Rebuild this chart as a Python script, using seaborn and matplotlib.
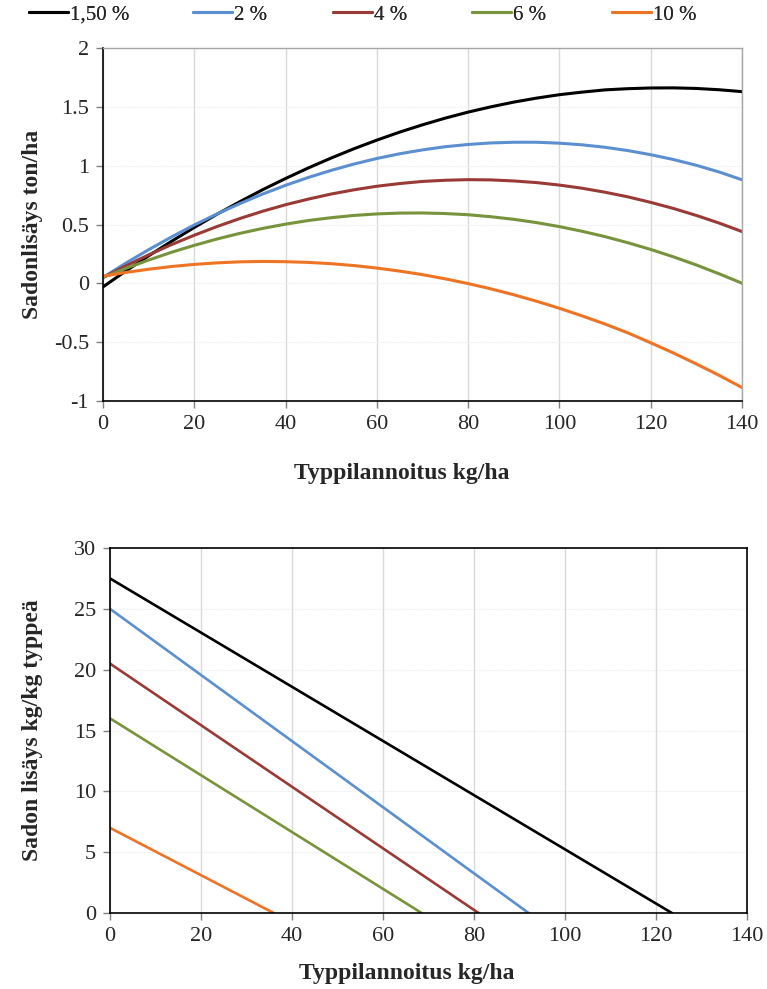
import numpy as np
import pandas as pd
import matplotlib
matplotlib.use("Agg")
import matplotlib.pyplot as plt
import seaborn as sns

# ---- data ----
series = ["1,50 %", "2 %", "4 %", "6 %", "10 %"]
colors = ["#000000", "#5B8FD0", "#9A3A37", "#77933C", "#EE7424"]

n_rate = [0, 5, 10, 15, 20, 25, 30, 35, 40, 45, 50, 55, 60, 65, 70,
          75, 80, 85, 90, 95, 100, 105, 110, 115, 120, 125, 130, 135, 140]
yield_150 = [-0.03, 0.105, 0.234, 0.357, 0.475, 0.588, 0.694, 0.796, 0.891, 0.981, 1.065, 1.144, 1.217, 1.285, 1.347,
             1.404, 1.455, 1.500, 1.540, 1.574, 1.603, 1.625, 1.644, 1.654, 1.660, 1.661, 1.656, 1.645, 1.629]
yield_2 = [0.05, 0.172, 0.286, 0.394, 0.496, 0.590, 0.678, 0.759, 0.833, 0.900, 0.960, 1.014, 1.061, 1.101, 1.134,
           1.161, 1.180, 1.193, 1.199, 1.199, 1.191, 1.177, 1.156, 1.128, 1.093, 1.052, 1.003, 0.946, 0.880]
yield_4 = [0.05, 0.149, 0.242, 0.329, 0.409, 0.483, 0.551, 0.613, 0.668, 0.716, 0.759, 0.795, 0.825, 0.848, 0.866,
           0.876, 0.881, 0.879, 0.870, 0.856, 0.835, 0.808, 0.774, 0.735, 0.688, 0.636, 0.577, 0.512, 0.440]
yield_6 = [0.05, 0.127, 0.198, 0.264, 0.323, 0.377, 0.425, 0.467, 0.503, 0.534, 0.558, 0.577, 0.590, 0.597, 0.598,
           0.593, 0.583, 0.566, 0.544, 0.516, 0.482, 0.442, 0.397, 0.345, 0.288, 0.225, 0.156, 0.081, 0.001]
yield_10 = [0.06, 0.093, 0.120, 0.143, 0.161, 0.174, 0.183, 0.186, 0.184, 0.178, 0.167, 0.151, 0.130, 0.104, 0.074,
            0.038, -0.002, -0.047, -0.097, -0.152, -0.212, -0.277, -0.346, -0.421, -0.505, -0.592, -0.685, -0.782, -0.885]

# marginal yield (kg/kg N): start value at 0 and zero-crossing N rate
marg_start = [27.5, 25.0, 20.5, 16.0, 7.0]
marg_zero_x = [123.5, 92.0, 81.0, 68.5, 36.0]

top_df = pd.DataFrame({
    "x": n_rate * 5,
    "y": yield_150 + yield_2 + yield_4 + yield_6 + yield_10,
    "s": [s for s in series for _ in n_rate],
})
bot_df = pd.DataFrame({
    "x": [v for z in marg_zero_x for v in (0, z)],
    "y": [v for a in marg_start for v in (a, 0)],
    "s": [s for s in series for _ in range(2)],
})

sns.set_style("white")
plt.rcParams["font.family"] = ["Liberation Serif", "DejaVu Serif"]

fig = plt.figure(figsize=(7.67, 9.89), dpi=100)
ax1 = fig.add_axes([0.1343, 0.5945, 0.8331, 0.357])
ax2 = fig.add_axes([0.1434, 0.0768, 0.8306, 0.3691])

pal = dict(zip(series, colors))
sns.lineplot(data=top_df, x="x", y="y", hue="s", palette=pal, ax=ax1, linewidth=2.2, legend=False)
sns.lineplot(data=bot_df, x="x", y="y", hue="s", palette=pal, ax=ax2, linewidth=1.9, legend=False)

TICK_FS = 16
LAB_FS = 17

# top axes
ax1.set_xlim(0, 140)
ax1.set_ylim(-1, 2)
ax1.set_xticks(range(0, 141, 20))
ax1.set_yticks([-1, -0.5, 0, 0.5, 1, 1.5, 2])
ax1.set_yticklabels(["-1", "-0.5", "0", "0.5", "1", "1.5", "2"])
ax1.grid(axis="x", color="#d9d9d9", linewidth=1.0)
ax1.grid(axis="y", color="#ececec", linewidth=0.8, linestyle=(0, (1, 1)))
for side in ["left", "bottom"]:
    ax1.spines[side].set_color("black")
    ax1.spines[side].set_linewidth(1.2)
for side in ["top", "right"]:
    ax1.spines[side].set_color("#a6a6a6")
    ax1.spines[side].set_linewidth(1.0)
ax1.tick_params(axis="both", labelsize=TICK_FS, length=5, width=1, color="#808080", direction="out",
                bottom=True, left=True, pad=5)
ax1.set_xlabel("Typpilannoitus kg/ha", fontsize=LAB_FS, fontweight="bold")
ax1.set_ylabel("Sadonlisäys ton/ha", fontsize=LAB_FS, fontweight="bold")
ax1.xaxis.set_label_coords(0.468, -0.176)
ax1.yaxis.set_label_coords(-0.094, 0.5)

# bottom axes
ax2.set_xlim(0, 140)
ax2.set_ylim(0, 30)
ax2.set_xticks(range(0, 141, 20))
ax2.set_yticks(range(0, 31, 5))
ax2.grid(axis="x", color="#d9d9d9", linewidth=1.0)
ax2.grid(axis="y", color="#ececec", linewidth=0.8, linestyle=(0, (1, 1)))
for side in ["left", "bottom", "top", "right"]:
    ax2.spines[side].set_color("black")
    ax2.spines[side].set_linewidth(1.2)
ax2.tick_params(axis="both", labelsize=TICK_FS, length=5, width=1, color="#808080", direction="out",
                bottom=True, left=True, pad=5)
ax2.set_xlabel("Typpilannoitus kg/ha", fontsize=LAB_FS, fontweight="bold")
ax2.set_ylabel("Sadon lisäys kg/kg typpeä", fontsize=LAB_FS, fontweight="bold")
ax2.xaxis.set_label_coords(0.466, -0.137)
ax2.yaxis.set_label_coords(-0.105, 0.5)

# legend entries placed individually like the Excel legend
handles = ax1.get_lines()[:5]
leg_x = [29, 193, 333, 472, 612]
for h, lab, xp in zip(handles, series, leg_x):
    lg = fig.legend([h], [lab], loc="center left", bbox_to_anchor=(xp / 767, 1 - 15 / 989),
                    frameon=False, fontsize=15, handlelength=1.87, handletextpad=0.1,
                    borderpad=0, borderaxespad=0)
    fig.add_artist(lg)

fig.savefig("out.png", dpi=100)
